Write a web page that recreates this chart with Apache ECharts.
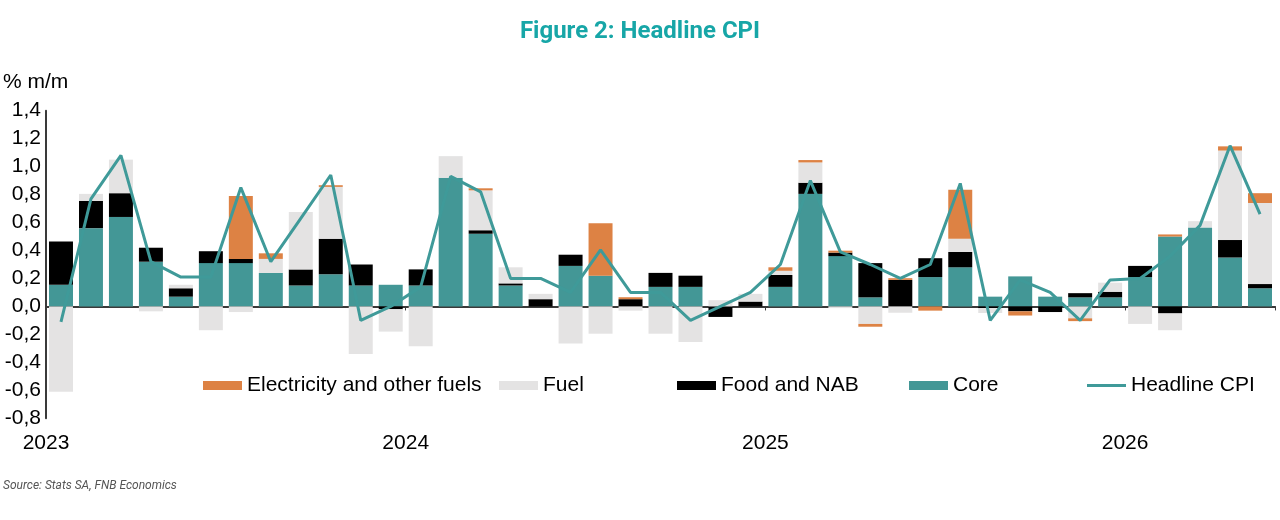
<!DOCTYPE html>
<html>
<head>
<meta charset="utf-8">
<title>Figure 2: Headline CPI</title>
<script src="https://cdn.jsdelivr.net/npm/echarts@6/dist/echarts.min.js"></script>
<style>
  html, body { margin: 0; padding: 0; background: #fff; }
  #chart { width: 1280px; height: 520px; }
</style>
</head>
<body>
<div id="chart"></div>
<script>
// monthly, Jan 2023 .. May 2026
const months = [];
for (let y = 2023; y <= 2026; y++) {
  for (let m = 1; m <= 12; m++) {
    if (y === 2026 && m > 5) break;
    months.push(y + '-' + String(m).padStart(2, '0'));
  }
}
const yearLabels = ['2023', '2024', '2025', '2026'];

// contributions, % m/m
const core = [
  0.155, 0.56, 0.64, 0.32, 0.07, 0.31, 0.31, 0.24, 0.15, 0.23, 0.15, 0.155,
  0.15, 0.92, 0.52, 0.15, 0, 0.29, 0.22, 0, 0.14, 0.14, 0, 0,
  0.14, 0.805, 0.36, 0.065, 0, 0.21, 0.28, 0.07, 0.215, 0.07, 0.065, 0.065,
  0.21, 0.5, 0.565, 0.35, 0.13
];
const food = [
  0.31, 0.195, 0.17, 0.10, 0.06, 0.085, 0.03, 0, 0.115, 0.255, 0.15, -0.02,
  0.115, 0, 0.025, 0.015, 0.052, 0.08, 0, 0.052, 0.10, 0.08, -0.075, 0.035,
  0.085, 0.08, 0.025, 0.245, 0.19, 0.135, 0.11, -0.012, -0.035, -0.04, 0.03, 0.04,
  0.08, -0.05, 0, 0.125, 0.03
];
const fuel = [
  -0.61, 0.05, 0.24, -0.035, 0.025, -0.17, -0.04, 0.10, 0.41, 0.37, -0.34, -0.16,
  -0.285, 0.155, 0.285, 0.115, 0.038, -0.265, -0.195, -0.03, -0.195, -0.255, 0.045, 0.055,
  0.03, 0.145, -0.012, -0.125, -0.045, 0, 0.095, -0.035, 0, 0, -0.085, 0.065,
  -0.125, -0.12, 0.045, 0.64, 0.58
];
const electricity = [
  0, 0, 0, 0, 0, 0, 0.45, 0.04, 0, 0.012, 0, 0,
  0, 0, 0.015, 0, 0, 0, 0.375, 0.014, 0, 0, 0, 0,
  0.025, 0.017, 0.014, -0.02, 0.012, -0.03, 0.35, 0, -0.03, 0, -0.02, 0,
  0, 0.015, 0, 0.03, 0.07
];
const headline = [
  -0.11, 0.77, 1.08, 0.32, 0.21, 0.21, 0.85, 0.32, 0.63, 0.94, -0.1, 0.0,
  0.14, 0.93, 0.82, 0.2, 0.2, 0.1, 0.405, 0.1, 0.1, -0.1, 0.0, 0.1,
  0.3, 0.9, 0.39, 0.3, 0.2, 0.3, 0.88, -0.1, 0.19, 0.1, -0.1, 0.19,
  0.2, 0.36, 0.58, 1.15, 0.66
];

const FONT = 'Liberation Sans, Arial, sans-serif';
const colors = {
  core: '#439796',
  food: '#000000',
  fuel: '#e4e3e3',
  elec: '#dd8244',
  line: '#3f9a99'
};

const chart = echarts.init(document.getElementById('chart'), null, { renderer: 'canvas' });

const barSeries = (name, data, color) => ({
  name: name,
  type: 'bar',
  stack: 'cpi',
  data: data,
  barCategoryGap: '20%',
  itemStyle: { color: color },
  emphasis: { disabled: true }
});

const legendAt = (name, left) => ({
  data: [name],
  left: left,
  top: 375,
  padding: 0,
  icon: 'rect',
  itemWidth: 39,
  itemHeight: 9,
  textStyle: { fontFamily: FONT, fontSize: 21, color: '#000' },
  selectedMode: false
});

chart.setOption({
  animation: false,
  title: [
    {
      text: 'Figure 2: Headline CPI',
      left: 'center',
      top: 20,
      padding: 0,
      textStyle: {
        fontFamily: 'Liberation Sans Narrow, Roboto, sans-serif',
        fontWeight: 'bold',
        fontSize: 24,
        color: '#17a6a7'
      }
    },
    {
      text: '% m/m',
      left: 3,
      top: 72,
      padding: 0,
      textStyle: { fontFamily: FONT, fontWeight: 'normal', fontSize: 21, color: '#000' }
    },
    {
      text: 'Source: Stats SA, FNB Economics',
      left: 3,
      top: 480,
      padding: 0,
      textStyle: {
        fontFamily: 'Liberation Sans Narrow, Roboto, sans-serif',
        fontStyle: 'italic',
        fontWeight: 'normal',
        fontSize: 12,
        color: '#555'
      }
    }
  ],
  legend: [
    legendAt('Electricity and other fuels', 203),
    legendAt('Fuel', 499),
    legendAt('Food and NAB', 677),
    legendAt('Core', 909),
    Object.assign(legendAt('Headline CPI', 1087), { itemHeight: 3 })
  ],
  grid: { left: 46, right: 5, top: 110.7, bottom: 101.7, containLabel: false },
  xAxis: [
    {
      type: 'category',
      data: months,
      position: 'bottom',
      boundaryGap: true,
      axisLine: { onZero: true, lineStyle: { color: '#3a3a3a', width: 2 } },
      axisTick: {
        show: true,
        length: 4,
        interval: (i) => i % 12 === 0,
        lineStyle: { color: '#3a3a3a', width: 1 }
      },
      axisLabel: { show: false },
      splitLine: { show: false }
    },
    {
      // year labels sit at the bottom of the plot, on the year boundaries
      type: 'value',
      position: 'bottom',
      min: 0,
      max: months.length,
      interval: 12,
      axisLine: { show: false },
      axisTick: { show: false },
      splitLine: { show: false },
      axisLabel: {
        margin: 14,
        showMaxLabel: false,
        fontFamily: FONT,
        fontSize: 21,
        color: '#000',
        formatter: (v) => (v % 12 === 0 ? (yearLabels[v / 12] || '') : '')
      }
    }
  ],
  yAxis: {
    type: 'value',
    min: -0.8,
    max: 1.4,
    interval: 0.2,
    axisLine: { show: true, lineStyle: { color: '#3a3a3a', width: 2 } },
    axisTick: { show: false },
    splitLine: { show: false },
    axisLabel: {
      margin: 5,
      fontFamily: FONT,
      fontSize: 21,
      color: '#000',
      formatter: (v) => v.toFixed(1).replace('.', ',')
    }
  },
  series: [
    barSeries('Core', core, colors.core),
    barSeries('Food and NAB', food, colors.food),
    barSeries('Fuel', fuel, colors.fuel),
    barSeries('Electricity and other fuels', electricity, colors.elec),
    {
      name: 'Headline CPI',
      type: 'line',
      data: headline,
      symbol: 'none',
      showSymbol: false,
      z: 5,
      lineStyle: { color: colors.line, width: 3 },
      itemStyle: { color: colors.line },
      emphasis: { disabled: true }
    }
  ]
});
</script>
</body>
</html>
